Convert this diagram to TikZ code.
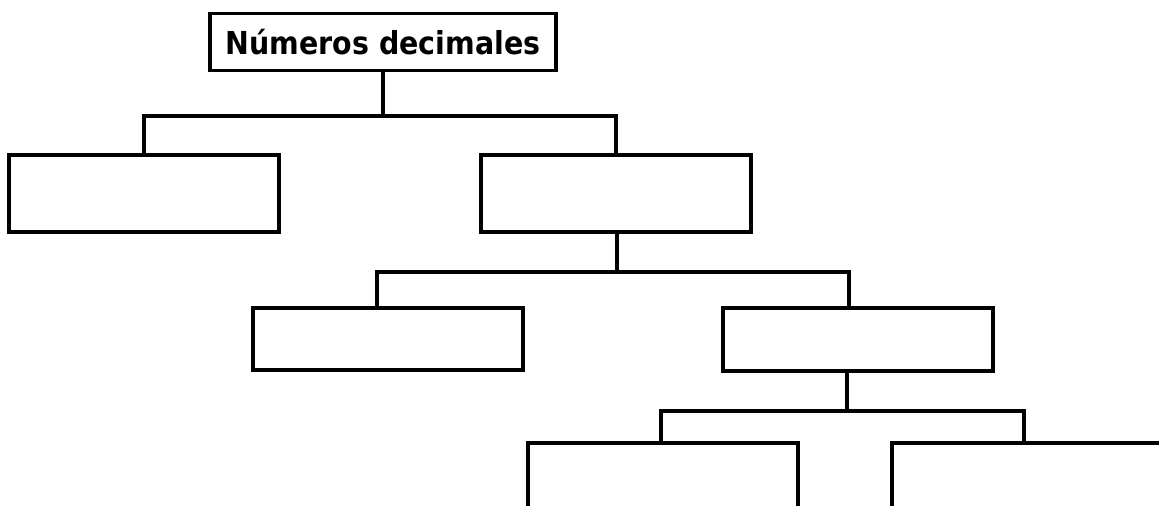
\documentclass[tikz,border=0pt]{standalone}
\usepackage{fontspec}
\setmainfont{DejaVu Sans}
\newfontfamily\titulofont{DejaVu Sans Condensed}
\usepackage{tikz}

\tikzset{
	caja/.style={draw, line width=0.1cm, minimum width=8.1cm, inner sep=0pt},
	rama/.style={line width=0.1cm}
}

\begin{document}
\begin{tikzpicture}[x=0.03cm, y=-0.03cm]
	\useasboundingbox (0,0) rectangle (1159,505);
	\clip (0,0) rectangle (1159,505);
	\node[caja, minimum width=10.38cm, minimum height=1.71cm, font=\titulofont\bfseries\fontsize{27}{31}\selectfont] (titulo) at (383,42) {Números decimales};
	\node[caja, minimum height=2.31cm] (c1) at (144,193.5) {};
	\node[caja, minimum height=2.31cm] (c2) at (616,193.5) {};
	\node[caja, minimum height=1.86cm] (c3) at (388,339) {};
	\node[caja, minimum height=1.89cm] (c4) at (858,339.5) {};
	\node[caja, minimum height=2.31cm] (c5) at (663,481.5) {};
	\node[caja, minimum height=2.31cm] (c6) at (1027,481.5) {};
	\coordinate (u1) at (383,116);
	\coordinate (u2) at (617,272);
	\coordinate (u3) at (847,411);
	\draw[rama] (titulo.south -| u1) -- (u1);
	\draw[rama] (c1.north) |- (u1) -| (c2.north);
	\draw[rama] (c2.south -| u2) -- (u2);
	\draw[rama] ([xshift=-0.33cm]c3.north) |- (u2) -| ([xshift=-0.27cm]c4.north);
	\draw[rama] (c4.south -| u3) -- (u3);
	\draw[rama] ([xshift=-0.06cm]c5.north) |- (u3) -| ([xshift=-0.09cm]c6.north);
\end{tikzpicture}
\end{document}
